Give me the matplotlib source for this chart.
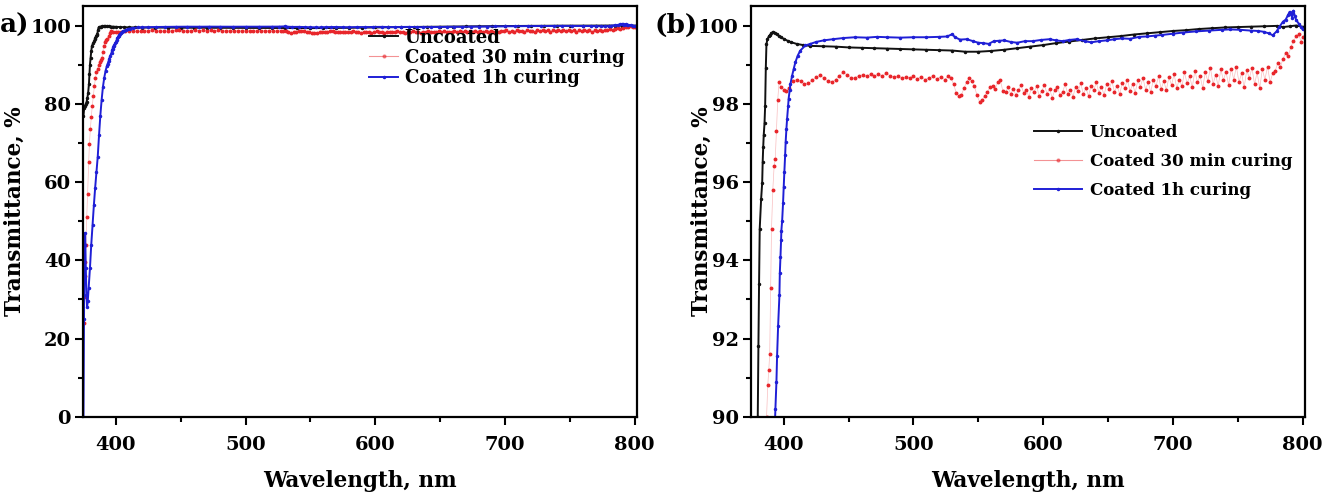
import numpy as np
import matplotlib
matplotlib.use("Agg")
import matplotlib.pyplot as plt
from matplotlib.ticker import MultipleLocator

# ---- data (wavelength in nm, transmittance in %) ----
wl_uncoated = [375.0, 375.6, 376.2, 376.8, 377.4, 378.0, 378.6, 379.2, 379.6, 380.0,
               380.5, 381.0, 381.5, 382.6, 383.4, 383.8, 384.2, 384.6, 385.2, 385.7,
               386.2, 386.7, 387.5, 388.5, 389.5, 390.5, 391.8, 393.0, 394.5, 396.0,
               398.0, 400.0, 403.0, 406.0, 410.0, 415.0, 420.0, 430.0, 440.0, 450.0,
               460.0, 470.0, 480.0, 490.0, 500.0, 510.0, 520.0, 530.0, 540.0, 550.0,
               560.0, 570.0, 580.0, 590.0, 600.0, 610.0, 620.0, 630.0, 640.0, 650.0,
               660.0, 670.0, 680.0, 690.0, 700.0, 710.0, 720.0, 730.0, 740.0, 750.0,
               760.0, 770.0, 780.0, 785.0, 790.0, 795.0, 800.0]
t_uncoated = [77.0, 79.0, 79.5, 80.0, 80.5, 81.5, 82.8, 85.0, 87.5, 90.0,
              91.8, 93.4, 94.8, 95.57, 95.97, 96.52, 96.89, 97.2, 97.5, 97.95,
              98.91, 99.53, 99.65, 99.72, 99.76, 99.8, 99.84, 99.82, 99.78, 99.74,
              99.7, 99.66, 99.61, 99.57, 99.53, 99.5, 99.48, 99.47, 99.46, 99.44,
              99.43, 99.42, 99.41, 99.4, 99.39, 99.38, 99.37, 99.36, 99.33, 99.33,
              99.35, 99.38, 99.42, 99.46, 99.5, 99.55, 99.59, 99.63, 99.67, 99.7,
              99.73, 99.77, 99.8, 99.83, 99.86, 99.88, 99.91, 99.93, 99.95, 99.96,
              99.97, 99.98, 99.99, 99.96, 99.98, 100.0, 99.97]

wl_30min = [375.2, 375.6, 376.0, 376.4, 376.9, 377.5, 378.2, 379.0, 379.6, 380.3,
            381.0, 381.8, 382.6, 383.4, 384.2, 385.0, 385.9, 386.8, 387.7, 388.5,
            389.2, 389.9, 390.6, 391.6, 392.6, 393.5, 394.4, 395.4, 396.4,
            398, 400, 402, 404, 407, 410, 413, 416, 419, 422, 425, 428, 431, 434,
            437, 440, 443, 446, 449, 452, 455, 458, 461, 464, 467, 470, 473, 476,
            479, 482, 485, 488, 491, 494, 497, 500, 503, 506, 509, 512, 515, 518,
            521, 524, 527, 529, 531, 533, 535, 537, 539, 541, 543, 545, 547, 549,
            551, 553, 555, 557, 559, 561, 563, 565, 567, 569,
            571, 573, 575, 577, 579, 581, 583, 585, 587, 589, 591, 593, 595, 597,
            599, 601, 603, 605, 607, 609, 611, 613, 615, 617, 619, 621, 623, 625,
            627, 629, 631, 633, 635, 637, 639, 641, 643, 645, 647, 649, 651, 653,
            655, 657, 659, 661, 663, 665, 667, 669, 671, 673, 675, 677, 679, 681,
            683, 685, 687, 689, 691, 693, 695, 697, 699, 701, 703, 705, 707, 709,
            711, 713, 715, 717, 719, 721, 723, 725, 727, 729, 731, 733, 735, 737,
            739, 741, 743, 745, 747, 749, 751, 753, 755, 757, 759, 761, 763, 765,
            767, 769, 771, 773, 775, 777, 779, 781, 783, 785, 787, 789, 791, 793,
            795, 797, 799, 800]
t_30min = [24.0, 30.5, 36.0, 39.5, 44.0, 51.0, 57.0, 65.0, 69.8, 73.5,
           76.5, 79.5, 82.0, 84.5, 86.5, 88.0, 89.0, 90.0, 90.8, 91.2,
           91.6, 93.3, 94.8, 95.8, 96.4, 96.6, 97.3, 98.1, 98.55,
           98.42, 98.36, 98.33, 98.4, 98.58, 98.62, 98.58, 98.5, 98.52, 98.6, 98.68, 98.73, 98.66, 98.58,
           98.55, 98.62, 98.72, 98.8, 98.74, 98.66, 98.66, 98.72, 98.74, 98.7, 98.76, 98.72, 98.75, 98.7,
           98.78, 98.72, 98.68, 98.7, 98.65, 98.69, 98.66, 98.7, 98.64, 98.68, 98.62, 98.66, 98.7, 98.64,
           98.68, 98.62, 98.7, 98.66, 98.5, 98.28, 98.2, 98.22, 98.4, 98.55, 98.66, 98.58, 98.45, 98.22,
           98.05, 98.1, 98.2, 98.3, 98.42, 98.46, 98.38, 98.55, 98.6, 98.32,
           98.30, 98.42, 98.25, 98.38, 98.22, 98.35, 98.47, 98.28, 98.36, 98.18, 98.40, 98.30, 98.45, 98.20,
           98.33, 98.48, 98.26, 98.38, 98.15, 98.35, 98.44, 98.22, 98.30, 98.50, 98.24, 98.36, 98.18, 98.42,
           98.32, 98.52, 98.25, 98.40, 98.20, 98.46, 98.34, 98.55, 98.28, 98.44, 98.22, 98.50, 98.38, 98.58,
           98.30, 98.46, 98.25, 98.52, 98.40, 98.62, 98.32, 98.50, 98.28, 98.60, 98.44, 98.66, 98.36, 98.55,
           98.30, 98.62, 98.45, 98.70, 98.38, 98.58, 98.35, 98.68, 98.48, 98.76, 98.40, 98.62, 98.45, 98.80,
           98.52, 98.70, 98.42, 98.85, 98.55, 98.72, 98.40, 98.80, 98.58, 98.92, 98.50, 98.74, 98.45, 98.88,
           98.60, 98.82, 98.48, 98.90, 98.62, 98.95, 98.55, 98.78, 98.42, 98.86, 98.65, 98.92, 98.50, 98.80,
           98.40, 98.88, 98.62, 98.95, 98.55, 98.78, 98.85, 99.05, 98.95, 99.15, 99.30, 99.22, 99.45, 99.60,
           99.72, 99.78, 99.58, 99.70]

wl_1h = [375.0, 375.4, 375.8, 376.3, 376.8, 377.3, 377.8, 378.3, 379.0, 380.0,
         381.0, 382.0, 383.0, 384.0, 385.0, 386.0, 387.0, 388.0, 389.0, 390.0,
         391.0, 392.0, 393.0, 393.6, 394.4, 394.9, 395.7, 396.7, 397.0, 397.5,
         398.0, 398.2, 398.8, 399.5, 400.0, 400.5, 401.1, 401.5, 402.1, 402.6,
         403.4, 403.8, 404.6, 405.2, 406.5, 407.7, 409.0, 410.8, 412.8, 416.7,
         420.5, 425, 430.8, 438, 446, 455, 464, 472, 480, 490, 500, 510, 520,
         526, 530, 532, 536, 541, 546, 550, 554, 558, 562, 566, 570, 575, 580,
         586, 592, 598, 605, 610, 615, 620, 626, 632, 637, 643, 649, 655, 661,
         667, 674, 680, 686, 692, 700, 708, 718, 728, 738, 744, 752, 760, 766,
         770, 774, 777, 780, 782, 785, 787, 789, 790, 791, 792, 793, 794, 795,
         797, 799, 800]
t_1h = [0.0, 25.0, 44.0, 47.0, 38.0, 31.0, 28.0, 29.5, 33.0, 38.0,
        44.0, 49.0, 54.0, 58.5, 62.5, 66.5, 72.0, 77.0, 81.0, 84.3,
        86.6, 88.4, 89.6, 90.2, 90.9, 91.55, 92.33, 93.1, 93.67, 94.08,
        94.53, 94.76, 95.01, 95.46, 95.87, 96.25, 96.68, 97.02, 97.36, 97.61,
        97.94, 98.13, 98.34, 98.51, 98.72, 98.89, 99.06, 99.23, 99.36, 99.49,
        99.53, 99.58, 99.62, 99.65, 99.68, 99.7, 99.69, 99.71, 99.7, 99.69, 99.7, 99.7, 99.71,
        99.72, 99.78, 99.7, 99.64, 99.65, 99.6, 99.56, 99.55, 99.53, 99.6, 99.61, 99.62, 99.58, 99.56,
        99.6, 99.6, 99.63, 99.65, 99.62, 99.6, 99.63, 99.65, 99.6, 99.57, 99.6, 99.62, 99.65, 99.67,
        99.66, 99.71, 99.72, 99.74, 99.76, 99.79, 99.82, 99.85, 99.87, 99.89, 99.9, 99.89, 99.87, 99.86,
        99.84, 99.8, 99.75, 99.85, 99.96, 100.1, 100.15, 100.28, 100.35, 100.3, 100.2, 100.38, 100.25, 100.15,
        100.05, 99.95, 99.9]

labels = ["Uncoated", "Coated 30 min curing", "Coated 1h curing"]
colors = ["#111111", "#e8262b", "#1f1fd6"]

plt.rcParams["font.family"] = ["DejaVu Serif"]
plt.rcParams["font.weight"] = "bold"

fig = plt.figure(figsize=(13.25, 4.95), dpi=100)
ax1 = fig.add_axes([0.063, 0.158, 0.418, 0.830])
ax2 = fig.add_axes([0.567, 0.158, 0.418, 0.830])

series = [(wl_uncoated, t_uncoated), (wl_30min, t_30min), (wl_1h, t_1h)]


def draw_panel(ax, ylim, ymajor, yminor, ylab_x):
    for (x, y), lab, c in zip(series, labels, colors):
        if lab.startswith("Coated 30"):
            ax.plot(x, y, "-", color=c, lw=0.5, alpha=0.3)
            ax.plot(x, y, ".", color=c, ms=3.6, lw=0)
            ax.plot([], [], "-", marker=".", color=c, lw=0.8, ms=4, alpha=0.5, label=lab)
        else:
            ax.plot(x, y, "-", marker=".", color=c, lw=1.4, ms=3, label=lab)
    ax.set_xlim(375, 802)
    ax.set_ylim(*ylim)
    ax.xaxis.set_major_locator(MultipleLocator(100))
    ax.xaxis.set_minor_locator(MultipleLocator(50))
    ax.yaxis.set_major_locator(MultipleLocator(ymajor))
    ax.yaxis.set_minor_locator(MultipleLocator(yminor))
    ax.tick_params(which="both", direction="out", width=1.5, labelsize=14)
    ax.tick_params(axis="x", pad=8)
    ax.tick_params(axis="y", pad=3)
    ax.tick_params(which="major", length=6)
    ax.tick_params(which="minor", length=3.5)
    for s in ax.spines.values():
        s.set_linewidth(1.6)
    ax.set_xlabel("Wavelength, nm", fontsize=15.5, fontweight="bold", labelpad=11)
    ax.set_ylabel("Transmittance, %", fontsize=15.5, fontweight="bold")
    ax.yaxis.set_label_coords(ylab_x, 0.5)


draw_panel(ax1, (0, 105), 20, 10, -0.104)
draw_panel(ax2, (90, 100.5), 2, 1, -0.07)

leg1 = ax1.legend(loc="upper left", bbox_to_anchor=(0.515, 0.945), frameon=False,
                  fontsize=13, handlelength=1.65, handletextpad=0.35, labelspacing=0.12,
                  borderpad=0, borderaxespad=0)
leg2 = ax2.legend(loc="upper left", bbox_to_anchor=(0.51, 0.712), frameon=False,
                  fontsize=12, handlelength=2.9, handletextpad=0.45, labelspacing=0.7,
                  borderpad=0, borderaxespad=0)
for leg in (leg1, leg2):
    for t in leg.get_texts():
        t.set_fontweight("bold")

fig.text(0.0, 0.948, "a)", fontsize=19, fontweight="bold", ha="left", va="center")
fig.text(0.494, 0.948, "(b)", fontsize=19, fontweight="bold", ha="left", va="center")

fig.savefig("out.png", dpi=100)
